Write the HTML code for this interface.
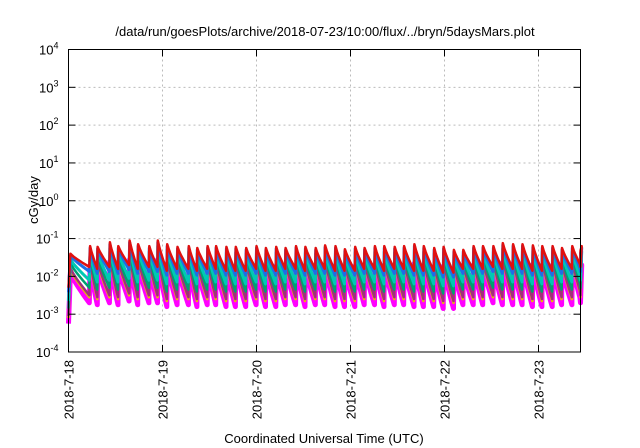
<!DOCTYPE html>
<html><head><meta charset="utf-8"><style>
body{margin:0;background:#fff;}
svg{display:block;font-family:"Liberation Sans",sans-serif;}
</style></head><body>
<svg id="chart" width="640" height="448" viewBox="0 0 640 448">
<text x="325" y="36" font-size="13" text-anchor="middle">/data/run/goesPlots/archive/2018-07-23/10:00/flux/../bryn/5daysMars.plot</text>
<text transform="translate(38,200) rotate(-90)" font-size="13" text-anchor="middle">cGy/day</text>
<text x="324" y="443" font-size="13" text-anchor="middle">Coordinated Universal Time (UTC)</text>
<g id="grid"></g>
<g id="series"></g>
<rect x="68.5" y="49.5" width="512" height="302.5" fill="none" stroke="#000" stroke-width="1"/>
<g id="axes"></g>
</svg>
<script>
const dayLabels=["2018-7-18","2018-7-19","2018-7-20","2018-7-21","2018-7-22","2018-7-23"];
const yExps=[-4,-3,-2,-1,0,1,2,3,4];
const peakTimes=[0.02,0.23,0.31,0.44,0.53,0.65,0.74,0.86,0.95,1.05,1.16,1.28,1.37,1.48,1.57,1.68,1.78,1.89,2.0,2.1,2.21,2.31,2.42,2.52,2.63,2.73,2.84,2.94,3.05,3.15,3.26,3.36,3.47,3.57,3.68,3.78,3.89,3.99,4.10,4.20,4.31,4.41,4.52,4.62,4.73,4.83,4.94,5.04,5.15,5.25,5.36,5.46];
const peakLog=[-1.4,-1.2,-1.22,-1.1,-1.2,-1.05,-1.15,-1.2,-1.05,-1.15,-1.22,-1.2,-1.25,-1.2,-1.2,-1.22,-1.22,-1.25,-1.2,-1.25,-1.22,-1.25,-1.2,-1.22,-1.25,-1.18,-1.2,-1.28,-1.22,-1.25,-1.2,-1.2,-1.22,-1.2,-1.15,-1.2,-1.25,-1.22,-1.3,-1.3,-1.2,-1.2,-1.2,-1.12,-1.15,-1.15,-1.18,-1.2,-1.2,-1.25,-1.2,-1.2];
const troughLog=[-2.0,-1.75,-1.8,-1.75,-1.8,-1.7,-1.8,-1.75,-1.75,-1.85,-1.8,-1.8,-1.85,-1.8,-1.8,-1.85,-1.85,-1.85,-1.8,-1.85,-1.85,-1.8,-1.8,-1.85,-1.8,-1.8,-1.85,-1.85,-1.85,-1.8,-1.8,-1.85,-1.8,-1.8,-1.85,-1.85,-1.85,-1.9,-1.9,-1.8,-1.8,-1.8,-1.75,-1.8,-1.8,-1.8,-1.85,-1.85,-1.85,-1.8,-1.8,-1.75];
const seriesNames=["magenta","yellow","purple","green","teal","blue","red"];
const seriesColors=["#ff00ff","#e6c000","#a0307a","#00a070","#00c8b4","#1e6ee6","#e01010"];
const peakOffset=[-0.5,-0.42,-0.38,-0.25,-0.15,-0.05,0];
const troughOffset=[-0.95,-0.8,-0.75,-0.55,-0.35,-0.12,0];
const seriesWidth=[5,2.5,2.5,2.5,3,3,2.5];
const L=68.5,R=580.5,T=49.5,B=352,dayW=94,tEnd=(R-L)/dayW;
const xS=d=>L+d*dayW;
const yS=lg=>B-(lg+4)*(B-T)/8;
const NS="http://www.w3.org/2000/svg";
const grid=document.getElementById('grid'),axes=document.getElementById('axes'),sg=document.getElementById('series');
function mk(tag,a,p){const e=document.createElementNS(NS,tag);for(const k in a)e.setAttribute(k,a[k]);p.appendChild(e);return e;}
yExps.forEach((ex,i)=>{const y=yS(ex);
 if(i>0&&i<yExps.length-1){const g=mk('line',{x1:L,x2:R,y1:y,y2:y,stroke:'#bbb','stroke-dasharray':'2,3'},grid);
 
 }
 mk('line',{x1:L,x2:L+7,y1:y,y2:y,stroke:'#000'},axes);mk('line',{x1:R-7,x2:R,y1:y,y2:y,stroke:'#000'},axes);
 const t=mk('text',{x:L-10,y:y+5,'font-size':13,'text-anchor':'end'},axes);
 
 
 t.innerHTML='10<tspan dy="-6" font-size="9">'+ex+'</tspan>';});
dayLabels.forEach((lab,i)=>{const x=xS(i);
 if(i>0){const g=mk('line',{x1:x,x2:x,y1:T,y2:B,stroke:'#bbb','stroke-dasharray':'2,3'},grid);
 
 }
 mk('line',{x1:x,x2:x,y1:B,y2:B-7,stroke:'#000'},axes);mk('line',{x1:x,x2:x,y1:T,y2:T+7,stroke:'#000'},axes);
 const t=mk('text',{transform:`translate(${x+5},${B+8}) rotate(-90)`,'font-size':13,'text-anchor':'end'},axes);
 
 
 t.textContent=lab;});
seriesNames.forEach((nm,s)=>{let pts=[];
 pts.push([xS(0),yS(troughLog[0]+troughOffset[s]-0.3)]);
 for(let i=0;i<peakTimes.length;i++){const t0=peakTimes[i];const t1=i+1<peakTimes.length?peakTimes[i+1]:tEnd;
  const p=peakLog[i]+peakOffset[s];const tr=(i+1<peakTimes.length?troughLog[i+1]:troughLog[i])+troughOffset[s];
  pts.push([xS(t0),yS(p)]);
  const n=6;for(let k=1;k<=n;k++){const f=k/n;const tt=t0+(t1-t0)*f*0.96;const v=p+(tr-p)*Math.pow(f,0.85);pts.push([xS(Math.min(tt,tEnd)),yS(v)]);}
 }
 const pl=mk('polyline',{points:pts.map(q=>q[0].toFixed(1)+','+q[1].toFixed(1)).join(' '),fill:'none',stroke:seriesColors[s],'stroke-width':seriesWidth[s],'stroke-linejoin':'round'},sg);
 
 });
</script>
</body></html>
